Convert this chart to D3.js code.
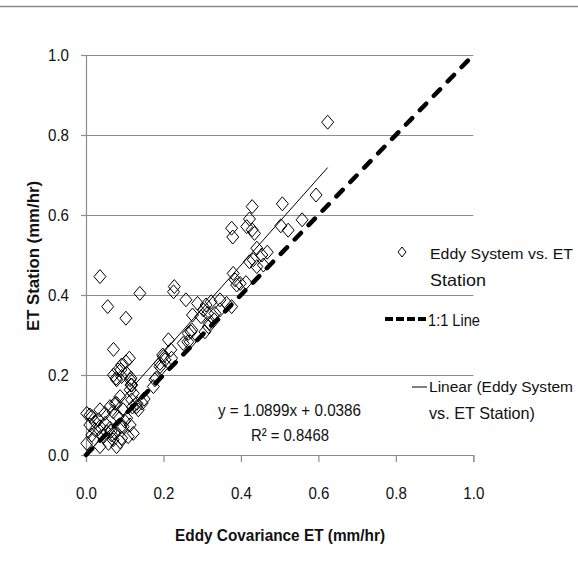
<!DOCTYPE html>
<html>
<head>
<meta charset="utf-8">
<script src="https://cdn.jsdelivr.net/npm/d3@7"></script>
<style>
  body { margin: 0; background: #fff; }
  svg { display: block; font-family: "Liberation Sans", Arial, sans-serif; }
</style>
</head>
<body>
<div id="chart"></div>
<script>
// 1. Data

const xTicks = [0, 0.2, 0.4, 0.6, 0.8, 1.0];
const yTicks = [0, 0.2, 0.4, 0.6, 0.8, 1.0];

// Eddy covariance ET (x) and ET station (y), mm/hr
const eddyET = [
  0.624, 0.594, 0.507, 0.429, 0.422, 0.415, 0.429, 0.435, 0.503, 0.522, 0.558, 0.376, 0.379,
  0.441, 0.422, 0.454, 0.468, 0.441, 0.458, 0.432,
  0.380, 0.385, 0.389, 0.413, 0.398, 0.376,
  0.036, 0.139, 0.056, 0.103, 0.228, 0.226, 0.258,
  0.288, 0.310, 0.323, 0.346, 0.363, 0.346, 0.333, 0.303,
  0.275, 0.297, 0.314, 0.318, 0.331,
  0.271, 0.263, 0.213, 0.219, 0.198, 0.191,
  0.273, 0.264, 0.316, 0.307, 0.251, 0.269,
  0.221, 0.200, 0.191, 0.195, 0.178, 0.174, 0.204,
  0.071, 0.112, 0.103, 0.090, 0.078, 0.116, 0.116, 0.181, 0.092, 0.083, 0.071,
  0.079, 0.092, 0.105, 0.114, 0.118, 0.114, 0.122,
  0.002, 0.015, 0.010, 0.023, 0.015, 0.032, 0.036, 0.049, 0.053, 0.045, 0.062, 0.066,
  0.070, 0.058, 0.079, 0.088, 0.070, 0.079, 0.083, 0.096, 0.105, 0.096, 0.114, 0.131,
  0.135, 0.122, 0.109, 0.092, 0.036, 0.019, 0.002,
  0.118, 0.131, 0.145, 0.150, 0.120, 0.100, 0.065, 0.075, 0.090,
  0.010, 0.023, 0.036, 0.049, 0.062, 0.075, 0.088
];
const stationET = [
  0.832, 0.650, 0.628, 0.621, 0.590, 0.571, 0.563, 0.554, 0.573, 0.562, 0.588, 0.567, 0.545,
  0.517, 0.483, 0.500, 0.507, 0.471, 0.475, 0.488,
  0.454, 0.438, 0.425, 0.431, 0.429, 0.371,
  0.446, 0.404, 0.371, 0.342, 0.421, 0.408, 0.388,
  0.379, 0.375, 0.383, 0.388, 0.379, 0.363, 0.354, 0.363,
  0.350, 0.346, 0.354, 0.329, 0.338,
  0.308, 0.283, 0.288, 0.263, 0.250, 0.221,
  0.313, 0.304, 0.321, 0.308, 0.279, 0.283,
  0.242, 0.246, 0.229, 0.217, 0.188, 0.171, 0.238,
  0.264, 0.242, 0.233, 0.213, 0.192, 0.192, 0.175, 0.192, 0.225, 0.213, 0.200,
  0.188, 0.196, 0.204, 0.188, 0.175, 0.163, 0.154,
  0.104, 0.096, 0.075, 0.063, 0.050, 0.088, 0.071, 0.079, 0.058, 0.046, 0.067, 0.050,
  0.038, 0.029, 0.021, 0.033, 0.108, 0.129, 0.096, 0.113, 0.092, 0.071, 0.075, 0.129,
  0.113, 0.054, 0.046, 0.042, 0.021, 0.038, 0.029,
  0.138, 0.121, 0.130, 0.140, 0.120, 0.085, 0.060, 0.055, 0.070,
  0.100, 0.083, 0.113, 0.104, 0.121, 0.129, 0.146
];

// trendline from the chart label
const slope = 1.0899;
const intercept = 0.0386;
const eqText = "y = 1.0899x + 0.0386";
const r2Text = "R\u00b2 = 0.8468";

const data = eddyET.map((x, i) => ({ x: x, y: stationET[i] }));

// 2. Dimensions

const width = 578, height = 565;
const plot = { left: 86, right: 473.3, top: 55, bottom: 455 };
const grey = "#8c8c8c";
const ink = "#111";

const svg = d3.select("#chart").append("svg")
    .attr("width", width)
    .attr("height", height);

// top border of the chart area
svg.append("line")
    .attr("x1", 0).attr("x2", width)
    .attr("y1", 6.5).attr("y2", 6.5)
    .attr("stroke", grey).attr("stroke-width", 1.5);

// squeeze a label to the width it has in the reference (Calibri-like)
const fit = (sel, w) => sel.attr("textLength", w).attr("lengthAdjust", "spacingAndGlyphs");

// 3. Scales

const xScale = d3.scaleLinear().domain([0, 1]).range([plot.left, plot.right]);
const yScale = d3.scaleLinear().domain([0, 1]).range([plot.bottom, plot.top]);

// 4. Gridlines and axes

svg.append("g")
    .selectAll("line")
    .data(yTicks.filter(d => d > 0))
    .join("line")
        .attr("x1", plot.left - 5)
        .attr("x2", plot.right)
        .attr("y1", d => Math.round(yScale(d)) + 0.5)
        .attr("y2", d => Math.round(yScale(d)) + 0.5)
        .attr("stroke", grey)
        .attr("stroke-width", 1.2);

const yAxis = svg.append("g")
    .attr("transform", `translate(${plot.left},0)`)
    .call(d3.axisLeft(yScale).tickValues(yTicks).tickFormat(d3.format(".1f")).tickSize(5).tickPadding(12));

const xAxis = svg.append("g")
    .attr("transform", `translate(0,${plot.bottom})`)
    .call(d3.axisBottom(xScale).tickValues(xTicks).tickFormat(d3.format(".1f")).tickSize(7).tickPadding(25));

[xAxis, yAxis].forEach(ax => {
    ax.select(".domain").attr("stroke", grey).attr("stroke-width", 1.2);
    ax.selectAll(".tick line").attr("stroke", grey).attr("stroke-width", 1.2);
    ax.selectAll("text")
        .attr("fill", ink)
        .style("font-family", "inherit")
        .style("font-size", "17px")
        .call(fit, 21);
});

// axis titles
svg.append("text")
    .attr("x", 280).attr("y", 541)
    .attr("text-anchor", "middle")
    .attr("font-weight", "bold")
    .attr("font-size", "17px")
    .attr("fill", ink)
    .text("Eddy Covariance ET (mm/hr)")
    .call(fit, 210);

svg.append("text")
    .attr("transform", "translate(39,256) rotate(-90)")
    .attr("text-anchor", "middle")
    .attr("font-weight", "bold")
    .attr("font-size", "17px")
    .attr("fill", ink)
    .text("ET Station (mm/hr)")
    .call(fit, 150);

// 5. Marks

const diamond = (cx, cy, w, h) =>
    `M${cx},${cy - h}L${cx + w},${cy}L${cx},${cy + h}L${cx - w},${cy}Z`;

svg.append("g")
    .selectAll("path")
    .data(data)
    .join("path")
        .attr("d", d => diamond(xScale(d.x), yScale(d.y), 6, 7))
        .attr("fill", "none")
        .attr("stroke", "#000")
        .attr("stroke-width", 1);

// 1:1 line
svg.append("line")
    .attr("x1", xScale(0)).attr("y1", yScale(0))
    .attr("x2", xScale(1)).attr("y2", yScale(1))
    .attr("stroke", "#000")
    .attr("stroke-width", 4.5)
    .attr("stroke-linecap", "round")
    .attr("stroke-dasharray", "9,11");

// linear trendline over the data range
const [xMin, xMax] = d3.extent(eddyET);
svg.append("line")
    .attr("x1", xScale(xMin)).attr("y1", yScale(slope * xMin + intercept))
    .attr("x2", xScale(xMax)).attr("y2", yScale(slope * xMax + intercept))
    .attr("stroke", "#000")
    .attr("stroke-width", 1);

// equation label
const eq = svg.append("g")
    .attr("font-size", "17px")
    .attr("fill", ink);
eq.append("text").attr("x", 218).attr("y", 416).text(eqText).call(fit, 143);
eq.append("text").attr("x", 251).attr("y", 441).text(r2Text).call(fit, 78);

// 6. Legend

const legend = svg.append("g")
    .attr("font-size", "16.5px")
    .attr("fill", ink);

legend.append("path")
    .attr("d", diamond(402, 252, 4, 5))
    .attr("fill", "none")
    .attr("stroke", "#000");
legend.append("text").attr("x", 430).attr("y", 259).attr("font-size", "15.5px")
    .text("Eddy System vs. ET").call(fit, 143);
legend.append("text").attr("x", 430).attr("y", 286).text("Station").call(fit, 56);

legend.append("line")
    .attr("x1", 385).attr("x2", 426)
    .attr("y1", 319).attr("y2", 319)
    .attr("stroke", "#000")
    .attr("stroke-width", 4)
    .attr("stroke-dasharray", "8,3");
legend.append("text").attr("x", 428).attr("y", 326).text("1:1 Line").call(fit, 52);

legend.append("line")
    .attr("x1", 412).attr("x2", 427)
    .attr("y1", 387).attr("y2", 387)
    .attr("stroke", "#000")
    .attr("stroke-width", 1);
legend.append("text").attr("x", 429).attr("y", 392).attr("font-size", "15.5px")
    .text("Linear (Eddy System").call(fit, 144);
legend.append("text").attr("x", 429).attr("y", 419).text("vs. ET Station)").call(fit, 106);
</script>
</body>
</html>
